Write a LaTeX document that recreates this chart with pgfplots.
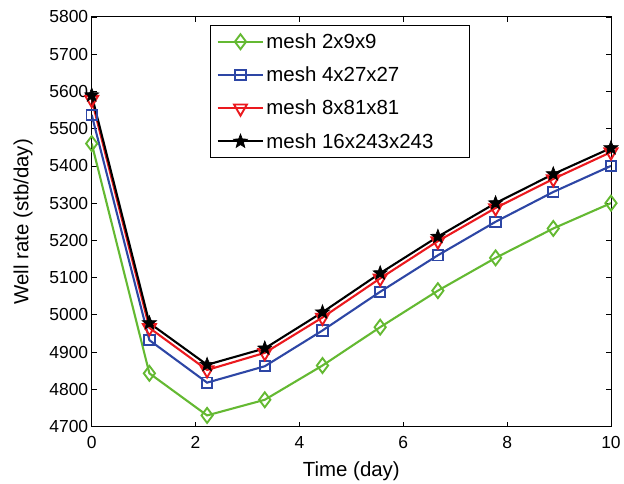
\documentclass[border=0pt]{standalone}
\usepackage{pgfplots}
\pgfplotsset{compat=1.18}
\usepackage{fontspec}
\setmainfont{Liberation Sans}
\usetikzlibrary{plotmarks}
\definecolor{mgreen}{RGB}{100,185,50}
\definecolor{mblue}{RGB}{45,70,165}
\definecolor{mred}{RGB}{235,25,30}
\pgfdeclareplotmark{fstar}{%
  \pgfpathmoveto{\pgfpointpolar{90}{\pgfplotmarksize}}%
  \pgfpathlineto{\pgfpointpolar{126}{0.42\pgfplotmarksize}}%
  \pgfpathlineto{\pgfpointpolar{162}{\pgfplotmarksize}}%
  \pgfpathlineto{\pgfpointpolar{198}{0.42\pgfplotmarksize}}%
  \pgfpathlineto{\pgfpointpolar{234}{\pgfplotmarksize}}%
  \pgfpathlineto{\pgfpointpolar{270}{0.42\pgfplotmarksize}}%
  \pgfpathlineto{\pgfpointpolar{306}{\pgfplotmarksize}}%
  \pgfpathlineto{\pgfpointpolar{342}{0.42\pgfplotmarksize}}%
  \pgfpathlineto{\pgfpointpolar{18}{\pgfplotmarksize}}%
  \pgfpathlineto{\pgfpointpolar{54}{0.42\pgfplotmarksize}}%
  \pgfpathclose
  \pgfusepathqfillstroke}
\begin{document}
\begin{tikzpicture}[x=1pt,y=1pt]
\begin{axis}[
  at={(0,0)}, anchor=south west,
  scale only axis, width=521pt, height=411pt,
  xmin=0, xmax=10, ymin=4700, ymax=5800,
  xtick={0,2,4,6,8,10},
  ytick={4700,4800,...,5800},
  tick align=inside, major tick length=5pt,
  tick style={black, line width=0.8pt},
  axis line style={line width=0.9pt},
  /pgf/number format/assume math mode=true,
  /pgf/number format/1000 sep={},
  ticklabel style={font=\fontsize{17.5}{20}\selectfont},
  yticklabel style={xshift=0pt},
  xticklabel style={yshift=-6pt},
  label style={font=\fontsize{20.5}{24}\selectfont},
  xlabel={Time (day)}, ylabel={Well rate (stb/day)},
  xlabel style={yshift=-6pt},
  ylabel style={yshift=10pt},
  legend style={at={(0.228,0.98)}, anchor=north west, draw=black, line width=0.9pt,
    font=\fontsize{20.5}{24}\selectfont, row sep=13pt, inner xsep=6pt, inner ysep=6pt,
    cells={anchor=west}},
  legend image code/.code={\draw[mark repeat=2,mark phase=2,#1] plot coordinates {(0pt,0pt) (23pt,0pt) (46pt,0pt)};},
]
\addplot[mgreen, line width=2.1pt, mark=diamond, mark size=7.5pt, mark options={line width=1.9pt, fill=white}]
 coordinates {(0,5460) (1.1111,4843) (2.2222,4730) (3.3333,4772) (4.4444,4864) (5.5556,4967) (6.6667,5065) (7.7778,5153) (8.8889,5232) (10,5300)};
\addlegendentry{mesh 2x9x9}
\addplot[mblue, line width=2.1pt, mark=square, mark size=5.2pt, mark options={line width=1.9pt, fill=white}]
 coordinates {(0,5537) (1.1111,4932) (2.2222,4818) (3.3333,4862) (4.4444,4958) (5.5556,5062) (6.6667,5160) (7.7778,5250) (8.8889,5330) (10,5400)};
\addlegendentry{mesh 4x27x27}
\addplot[mred, line width=2.1pt, mark=triangle, mark size=7.5pt, mark options={line width=1.9pt, rotate=180, fill=white}]
 coordinates {(0,5578) (1.1111,4965) (2.2222,4852) (3.3333,4898) (4.4444,4993) (5.5556,5098) (6.6667,5198) (7.7778,5287) (8.8889,5365) (10,5437)};
\addlegendentry{mesh 8x81x81}
\addplot[black, line width=2.1pt, mark=fstar, mark size=7.5pt, mark options={line width=0.6pt, fill=black}]
 coordinates {(0,5590) (1.1111,4978) (2.2222,4866) (3.3333,4910) (4.4444,5007) (5.5556,5112) (6.6667,5210) (7.7778,5300) (8.8889,5378) (10,5448)};
\addlegendentry{mesh 16x243x243\rule{28pt}{0pt}}
\end{axis}
\path (-92pt,-55pt) rectangle (532pt,428pt);
\end{tikzpicture}
\end{document}
